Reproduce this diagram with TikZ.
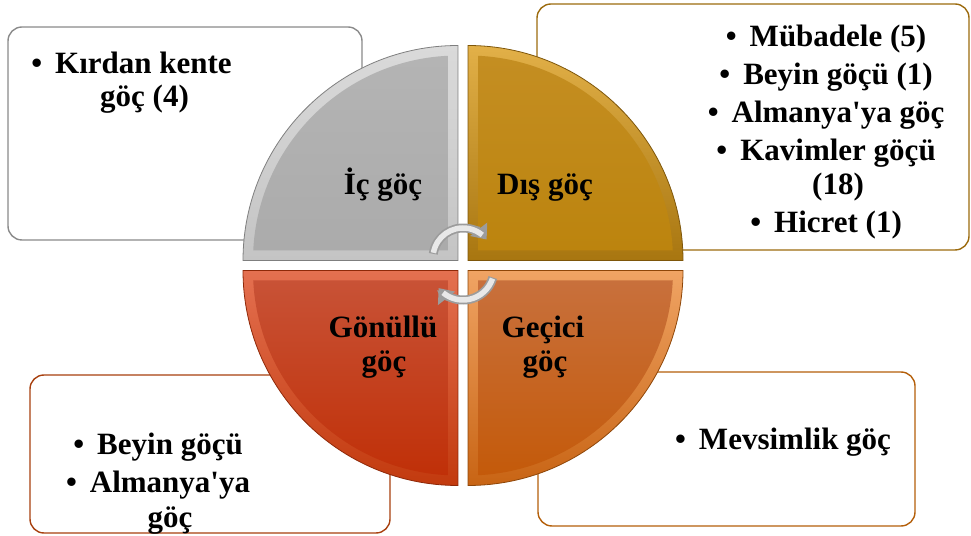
\documentclass[tikz,border=0pt]{standalone}
\usepackage{fontspec}
\setmainfont{Liberation Serif}
\usetikzlibrary{arrows.meta}
\definecolor{boxgray}{HTML}{8A8A8A}
\definecolor{boxgold}{HTML}{9C6B0E}
\definecolor{boxred}{HTML}{A8400F}
\definecolor{boxorange}{HTML}{B45F0A}
\definecolor{gOut}{HTML}{7F7F7F}
\definecolor{gBevT}{HTML}{DADADA}
\definecolor{gBevB}{HTML}{C4C4C4}
\definecolor{gFaceT}{HTML}{B4B4B4}
\definecolor{gFaceB}{HTML}{ABABAB}
\definecolor{oOut}{HTML}{7E560A}
\definecolor{oBevT}{HTML}{E2B048}
\definecolor{oBevB}{HTML}{A87610}
\definecolor{oFaceT}{HTML}{C48E22}
\definecolor{oFaceB}{HTML}{BC840E}
\definecolor{rOut}{HTML}{8E2808}
\definecolor{rBevT}{HTML}{E47050}
\definecolor{rBevB}{HTML}{C23A0E}
\definecolor{rFaceT}{HTML}{C85236}
\definecolor{rFaceB}{HTML}{C03008}
\definecolor{nOut}{HTML}{8E4608}
\definecolor{nBevT}{HTML}{F0A464}
\definecolor{nBevB}{HTML}{C86414}
\definecolor{nFaceT}{HTML}{C8703C}
\definecolor{nFaceB}{HTML}{C45A0A}
\definecolor{arrDark}{HTML}{9C9C9C}
\definecolor{arrLight}{HTML}{E8E8E8}
\newcommand\bul{\llap{\textbullet\hspace{13pt}}}
\newcommand\apo{\textquotesingle}
\begin{document}
\begin{tikzpicture}[x=1pt,y=1pt,
  lbl/.style={font=\fontsize{31}{34}\selectfont\bfseries, anchor=base, inner sep=0pt},
  box/.style={line width=1.4pt, fill=white, rounded corners=14pt},
  arrshaft/.style={line width=9pt, draw=arrDark},
  arrcore/.style={line width=5.5pt, draw=arrLight},
  arrtip/.style={-{Triangle[length=13pt,width=21pt]}}]
\useasboundingbox (0,0) rectangle (971,535);

% text boxes
\draw[box, draw=boxgray] (8,295) rectangle (362,508);
\draw[box, draw=boxgold] (537,285) rectangle (969,531);
\draw[box, draw=boxred] (30,2) rectangle (390,160);
\draw[box, draw=boxorange] (538,9) rectangle (915,163);

% quadrant: top-left (gray)
\shade[top color=gBevT, bottom color=gBevB, draw=gOut, line width=0.8pt]
  (458,274.5) -- (243,274.5) arc[start angle=180,end angle=90,radius=215] -- cycle;
\shade[top color=gFaceT, bottom color=gFaceB]
  (448,284.5) -- (253.24,284.5) arc[start angle=177.2,end angle=92.8,radius=205] -- cycle;
% quadrant: top-right (gold)
\shade[top color=oBevT, bottom color=oBevB, draw=oOut, line width=0.8pt]
  (468,274.5) -- (683,274.5) arc[start angle=0,end angle=90,radius=215] -- cycle;
\shade[top color=oFaceT, bottom color=oFaceB]
  (478,284.5) -- (672.76,284.5) arc[start angle=2.8,end angle=87.2,radius=205] -- cycle;
% quadrant: bottom-left (red)
\shade[top color=rBevT, bottom color=rBevB, draw=rOut, line width=0.8pt]
  (458,264.5) -- (243,264.5) arc[start angle=180,end angle=270,radius=215] -- cycle;
\shade[top color=rFaceT, bottom color=rFaceB]
  (448,254.5) -- (253.24,254.5) arc[start angle=182.8,end angle=267.2,radius=205] -- cycle;
% quadrant: bottom-right (orange)
\shade[top color=nBevT, bottom color=nBevB, draw=nOut, line width=0.8pt]
  (468,264.5) -- (683,264.5) arc[start angle=0,end angle=-90,radius=215] -- cycle;
\shade[top color=nFaceT, bottom color=nFaceB]
  (478,254.5) -- (672.76,254.5) arc[start angle=-2.8,end angle=-87.2,radius=205] -- cycle;

% circular arrows
\draw[arrshaft, arrtip] (463,277) ++(172:30) arc[start angle=172,end angle=38,radius=30];
\draw[arrcore] (463,277) ++(170:30) arc[start angle=170,end angle=50,radius=30];
\draw[arrshaft, arrtip] (463,266) ++(-16:31) arc[start angle=-16,end angle=-142,radius=31];
\draw[arrcore] (463,266) ++(-18:31) arc[start angle=-18,end angle=-130,radius=31];

% quadrant labels
\node[lbl] (ic) at (383,340) {İç göç};
\node[lbl] (dis) at (545,340) {Dış göç};
\node[lbl] (gon1) at (383,197) {Gönüllü};
\node[lbl] (gon2) at (384,163) {göç};
\node[lbl] (gec1) at (543,197) {Geçici};
\node[lbl] (gec2) at (545,163) {göç};

% box texts
\node[lbl] (k1) at (143.5,461) {\bul Kırdan kente};
\node[lbl] (k2) at (144.5,428) {göç (4)};

\node[lbl] (d1) at (838,488) {\bul Mübadele (5)};
\node[lbl] (d2) at (838,450) {\bul Beyin göçü (1)};
\node[lbl] (d3) at (838,412) {\bul Almanya\apo ya göç};
\node[lbl] (d4) at (838,374) {\bul Kavimler göçü};
\node[lbl] (d5) at (838,340) {(18)};
\node[lbl] (d6) at (838,302) {\bul Hicret (1)};

\node[lbl] (b1) at (170,80) {\bul Beyin göçü};
\node[lbl] (b2) at (170,42) {\bul Almanya\apo ya};
\node[lbl] (b3) at (170,8) {göç};

\node[lbl] (m1) at (795,85) {\bul Mevsimlik göç};
\end{tikzpicture}
\end{document}
